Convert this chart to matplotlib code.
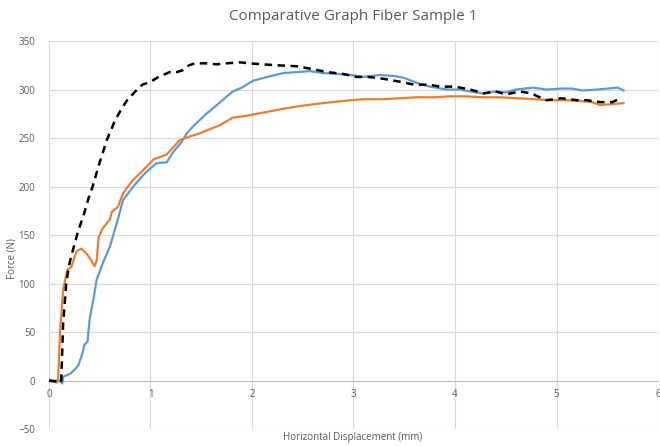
import matplotlib
matplotlib.use("Agg")
import matplotlib.pyplot as plt

plt.rcParams['font.family'] = ['Open Sans', 'DejaVu Sans']

# black dashed sample
black_x = [0.0, 0.08, 0.12, 0.14, 0.17, 0.2, 0.25, 0.29, 0.34, 0.39, 0.43, 0.5, 0.57, 0.65, 0.72, 0.77,
           0.85, 0.92, 1.0, 1.08, 1.19, 1.26, 1.32, 1.38, 1.44, 1.55, 1.65, 1.75, 1.88, 1.98, 2.1, 2.25,
           2.44, 2.6, 2.74, 2.9, 3.03, 3.15, 3.3, 3.46, 3.6, 3.75, 3.85, 4.0, 4.15, 4.28, 4.4, 4.5, 4.64,
           4.75, 4.9, 5.05, 5.2, 5.3, 5.43, 5.55, 5.63]
black_y = [0, -1, -2, 60, 100, 120, 140, 155, 170, 188, 200, 225, 248, 268, 281, 289,
           298, 305, 308, 313, 318, 318, 320, 325, 327, 327, 326, 327, 328, 327, 326, 325,
           324, 321, 318, 316, 313, 313, 311, 308, 305, 305, 303, 303, 300, 296, 298, 295, 298,
           296, 289, 291, 289, 289, 287, 287, 291]

# blue sample
blue_x = [0.0, 0.1, 0.13, 0.14, 0.21, 0.26, 0.29, 0.33, 0.35, 0.38, 0.4, 0.44, 0.47, 0.53, 0.6, 0.67,
          0.73, 0.83, 0.93, 1.0, 1.06, 1.16, 1.22, 1.3, 1.36, 1.42, 1.49, 1.55, 1.62, 1.72, 1.81, 1.9,
          2.01, 2.15, 2.31, 2.45, 2.57, 2.7, 2.85, 2.97, 3.1, 3.26, 3.4, 3.5, 3.62, 3.75, 3.92, 4.05,
          4.15, 4.28, 4.4, 4.5, 4.6, 4.77, 4.9, 5.05, 5.15, 5.26, 5.4, 5.5, 5.6, 5.66]
blue_y = [0, 0, -3, 4, 7, 12, 16, 28, 37, 40, 63, 85, 104, 121, 138, 163,
          186, 200, 212, 219, 224, 225, 235, 245, 255, 262, 269, 275, 281, 290, 298, 302,
          309, 313, 317, 318, 319, 317, 316, 315, 313, 315, 314, 312, 307, 303, 300, 300,
          298, 296, 298, 297, 300, 302, 300, 301, 301, 299, 300, 301, 302, 299]

# orange sample
orange_x = [0.0, 0.08, 0.09, 0.11, 0.14, 0.18, 0.22, 0.27, 0.32, 0.36, 0.39, 0.45, 0.47, 0.49, 0.53,
            0.6, 0.62, 0.68, 0.73, 0.83, 0.93, 1.03, 1.16, 1.29, 1.4, 1.49, 1.58, 1.68, 1.81, 1.95,
            2.15, 2.3, 2.47, 2.7, 2.97, 3.1, 3.29, 3.45, 3.62, 3.8, 3.95, 4.1, 4.28, 4.45, 4.61, 4.8,
            4.94, 5.1, 5.26, 5.35, 5.43, 5.55, 5.66]
orange_y = [0, -2, 1, 52, 94, 114, 117, 133, 136, 132, 128, 118, 124, 148, 157,
            166, 174, 179, 193, 207, 217, 228, 233, 248, 252, 255, 259, 263, 271, 273,
            277, 280, 283, 286, 289, 290, 290, 291, 292, 292, 293, 293, 292, 292, 291, 290,
            289, 289, 288, 287, 284, 285, 286]

title = "Comparative Graph Fiber Sample 1"
x_label = "Horizontal Displacement (mm)"
y_label = "Force (N)"
x_ticks = [0, 1, 2, 3, 4, 5, 6]
y_ticks = [-50, 0, 50, 100, 150, 200, 250, 300, 350]

fig = plt.figure(figsize=(6.6, 4.46), dpi=100)
ax = fig.add_axes([0.0742, 0.038, 0.9228, 0.870])

ax.plot(blue_x, blue_y, color='#5B9BD5', lw=1.6, zorder=3)
ax.plot(orange_x, orange_y, color='#ED7D31', lw=1.6, zorder=3)
ax.plot(black_x, black_y, color='black', lw=1.8, ls=(0, (3, 2.2)), zorder=4)

ax.set_xlim(0, 6)
ax.set_ylim(-50, 350)
ax.set_xticks(x_ticks)
ax.set_yticks(y_ticks)
ax.grid(True, color='#D9D9D9', lw=0.8)
ax.set_axisbelow(True)
for s in ['top', 'right', 'left']:
    ax.spines[s].set_visible(False)
ax.spines['bottom'].set_position(('data', 0))
ax.spines['bottom'].set_color('#BFBFBF')
ax.tick_params(length=0, labelsize=7, labelcolor='#595959')
ax.tick_params(axis='x', pad=6)
ax.tick_params(axis='y', pad=10)

fig.text(0.535, 0.962, title, ha='center', va='center', fontsize=11, color='#595959')
fig.text(0.535, 0.018, x_label, ha='center', va='center', fontsize=7, color='#595959')
fig.text(0.018, 0.42, y_label, ha='center', va='center', rotation=90, fontsize=7, color='#595959')

fig.savefig("out.png", dpi=100)
